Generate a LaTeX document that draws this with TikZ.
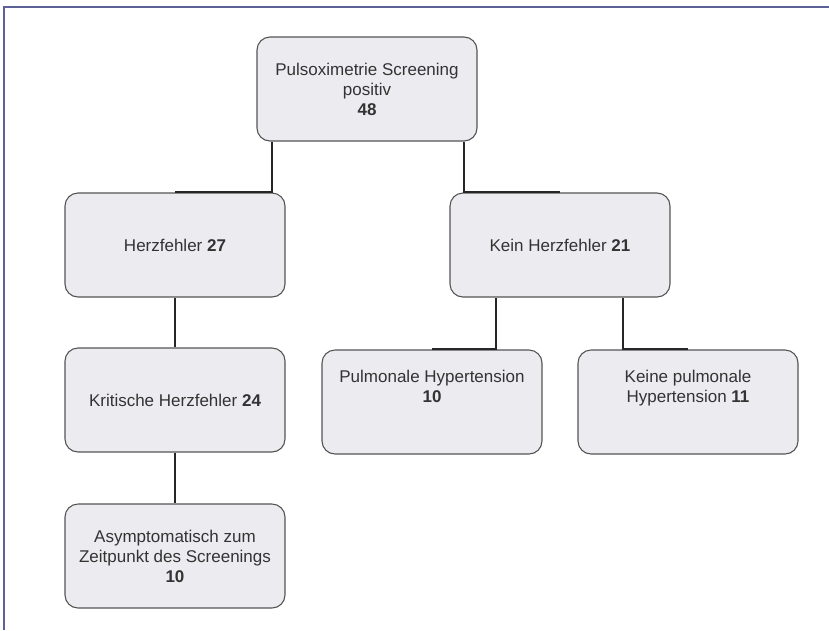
\documentclass[tikz,border=0pt]{standalone}
\usepackage{fontspec}
\setmainfont{Liberation Sans}
\usepackage{tikz}

\definecolor{boxfill}{HTML}{ECECF0}
\definecolor{boxline}{HTML}{555555}
\definecolor{txt}{HTML}{333333}
\definecolor{frame}{HTML}{5C6298}

\begin{document}
\begin{tikzpicture}
  [x=1pt,y=-1pt,
   every node/.style={rectangle,rounded corners=13pt,draw=boxline,line width=1.1pt,
     fill=boxfill,text=txt,minimum width=220pt,minimum height=104pt,
     align=center,inner sep=2pt,font=\fontsize{17}{20}\selectfont},
   conn/.style={line width=2pt,draw=black!85}]
  \useasboundingbox (0,0) rectangle (829,630);
  \draw[frame,line width=1.5pt] (4,630) -- (4,7) -- (829,7);

  \node (top) at (367,89) {Pulsoximetrie Screening\\positiv\\ \textbf{48}};
  \node (herz) at (175,245) {Herzfehler \textbf{27}};
  \node (kein) at (560,245) {Kein Herzfehler \textbf{21}};
  \node (krit) at (175,400) {Kritische Herzfehler \textbf{24}};
  \node (asym) at (175,556) {Asymptomatisch zum\\Zeitpunkt des Screenings\\ \textbf{10}};
  \node (pulm) at (432,402) {Pulmonale Hypertension\\ \textbf{10}\\[12pt]};
  \node (keine) at (688,402) {Keine pulmonale\\Hypertension \textbf{11}\\[12pt]};

  \draw[conn] ([xshift=-95pt]top.south) |- (herz.north);
  \draw[conn] ([xshift=97pt]top.south) |- (kein.north);

  \draw[conn] (herz.south) -- (krit.north);
  \draw[conn] (krit.south) -- (asym.north);

  \draw[conn] ([xshift=-64pt]kein.south) |- (pulm.north);
  \draw[conn] ([xshift=63pt]kein.south) |- (keine.north);
\end{tikzpicture}
\end{document}
